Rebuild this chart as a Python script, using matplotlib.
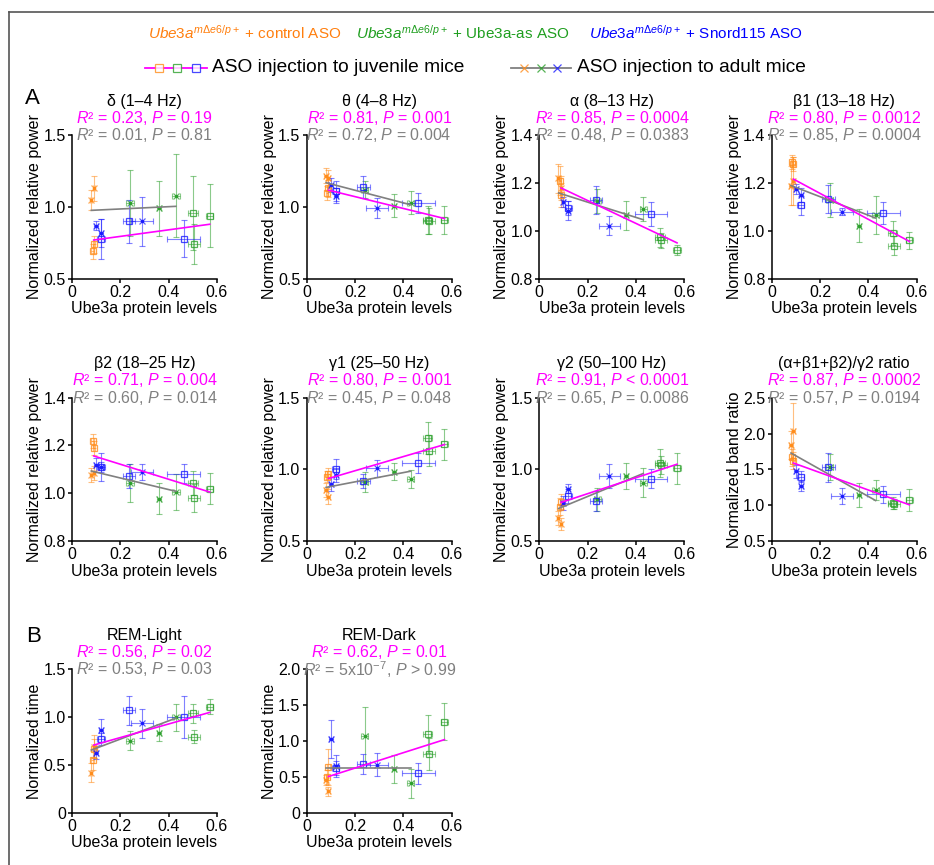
import matplotlib.pyplot as plt
from matplotlib.lines import Line2D
from matplotlib.ticker import FuncFormatter

plt.rcParams["font.family"] = ["Liberation Sans", "DejaVu Sans"]
plt.rcParams["mathtext.fontset"] = "custom"
plt.rcParams["mathtext.rm"] = "Liberation Sans"
plt.rcParams["mathtext.it"] = "Liberation Sans:italic"
plt.rcParams["mathtext.bf"] = "Liberation Sans:bold"

# ---- panel definitions -------------------------------------------------
TITLES = ["δ (1–4 Hz)", "θ (4–8 Hz)", "α (8–13 Hz)", "β1 (13–18 Hz)",
          "β2 (18–25 Hz)", "γ1 (25–50 Hz)", "γ2 (50–100 Hz)",
          "(α+β1+β2)/γ2 ratio", "REM-Light", "REM-Dark"]
YLABELS = ["Normalized relative power"] * 7 + ["Normalized band ratio",
                                               "Normalized time", "Normalized time"]
YLIMS = [(0.5, 1.5), (0.5, 1.5), (0.8, 1.4), (0.8, 1.4), (0.8, 1.4),
         (0.5, 1.5), (0.5, 1.5), (0.5, 2.5), (0, 1.5), (0, 2.0)]
YTICKS = [[0.5, 1.0, 1.5], [0.5, 1.0, 1.5], [0.8, 1.0, 1.2, 1.4],
          [0.8, 1.0, 1.2, 1.4], [0.8, 1.0, 1.2, 1.4], [0.5, 1.0, 1.5],
          [0.5, 1.0, 1.5], [0.5, 1.0, 1.5, 2.0, 2.5], [0, 0.5, 1.0, 1.5],
          [0, 0.5, 1.0, 1.5, 2.0]]

JUV_R2 = ["0.23", "0.81", "0.85", "0.80", "0.71", "0.80", "0.91", "0.87", "0.56", "0.62"]
JUV_P = ["= 0.19", "= 0.001", "= 0.0004", "= 0.0012", "= 0.004", "= 0.001",
         "< 0.0001", "= 0.0002", "= 0.02", "= 0.01"]
ADULT_R2 = ["0.01", "0.72", "0.48", "0.85", "0.60", "0.45", "0.65", "0.57", "0.53",
            "5x10$^{-7}$"]
ADULT_P = ["= 0.81", "= 0.004", "= 0.0383", "= 0.0004", "= 0.014", "= 0.048",
           "= 0.0086", "= 0.0194", "= 0.03", "> 0.99"]

# ---- Ube3a protein levels (shared by all panels) ------------------------
X_ORANGE_SQ = [0.085, 0.09]
X_ORANGE_X = [0.078, 0.09]
X_BLUE_SQ = [0.12, 0.235, 0.462]
XE_BLUE_SQ = [0.015, 0.025, 0.068]
X_BLUE_X = [0.10, 0.12, 0.29]
XE_BLUE_X = [0.008, 0.008, 0.045]
X_GREEN_SQ = [0.50, 0.505, 0.57]
XE_GREEN_SQ = [0.02, 0.025, 0.015]
X_GREEN_X = [0.24, 0.36, 0.43]
XE_GREEN_X = [0.015, 0.008, 0.015]
XE_ORANGE = [0.005, 0.005]

# ---- y values and errors, one row per panel -----------------------------
ORANGE_SQ_Y = [[0.69, 0.74], [1.10, 1.13], [1.21, 1.15], [1.29, 1.28], [1.22, 1.19],
               [0.95, 0.97], [0.74, 0.775], [1.67, 1.62], [0.55, 0.67], [0.50, 0.64]]
ORANGE_SQ_E = [[0.05, 0.06], [0.05, 0.06], [0.06, 0.05], [0.03, 0.03], [0.03, 0.03],
               [0.04, 0.04], [0.06, 0.05], [0.12, 0.12], [0.1, 0.1], [0.1, 0.25]]
ORANGE_X_Y = [[1.05, 1.13], [1.22, 1.20], [1.22, 1.18], [1.19, 1.21], [1.075, 1.085],
              [0.855, 0.81], [0.66, 0.62], [1.84, 2.04], [0.42, 0.69], [0.45, 0.30]]
ORANGE_X_E = [[0.07, 0.09], [0.05, 0.06], [0.06, 0.05], [0.08, 0.10], [0.03, 0.03],
              [0.05, 0.05], [0.05, 0.04], [0.2, 0.38], [0.1, 0.12], [0.07, 0.06]]

BLUE_SQ_Y = [[0.78, 0.90, 0.78], [1.11, 1.14, 1.03], [1.095, 1.13, 1.07],
             [1.107, 1.133, 1.075], [1.11, 1.072, 1.082], [1.0, 0.92, 1.045],
             [0.816, 0.78, 0.936], [1.40, 1.53, 1.15], [0.77, 1.07, 1.0],
             [0.62, 0.68, 0.55]]
BLUE_SQ_E = [[0.14, 0.15, 0.13], [0.07, 0.08, 0.07], [0.03, 0.06, 0.05],
             [0.04, 0.06, 0.045], [0.02, 0.05, 0.04], [0.07, 0.05, 0.07],
             [0.05, 0.07, 0.065], [0.08, 0.2, 0.12], [0.06, 0.15, 0.22],
             [0.1, 0.14, 0.15]]
BLUE_X_Y = [[0.87, 0.82, 0.90], [1.156, 1.08, 0.993], [1.12, 1.085, 1.022],
            [1.175, 1.15, 1.08], [1.117, 1.11, 1.089], [0.90, 0.96, 1.006],
            [0.767, 0.865, 0.955], [1.47, 1.27, 1.125], [0.63, 0.865, 0.935],
            [1.03, 0.65, 0.67]]
BLUE_X_E = [[0.03, 0.1, 0.17], [0.05, 0.05, 0.07], [0.02, 0.04, 0.04],
            [0.02, 0.03, 0.015], [0.03, 0.06, 0.035], [0.05, 0.05, 0.06],
            [0.05, 0.03, 0.085], [0.09, 0.07, 0.11], [0.07, 0.12, 0.15],
            [0.26, 0.15, 0.16]]

GREEN_SQ_Y = [[0.96, 0.74, 0.94], [0.91, 0.90, 0.91], [0.973, 0.96, 0.92],
              [0.993, 0.938, 0.96], [1.043, 0.98, 1.019], [1.22, 1.13, 1.175],
              [1.045, 1.03, 1.006], [1.028, 1.02, 1.074], [1.04, 0.795, 1.11],
              [1.10, 0.82, 1.27]]
GREEN_SQ_E = [[0.26, 0.14, 0.22], [0.1, 0.09, 0.1], [0.04, 0.03, 0.02],
              [0.05, 0.04, 0.035], [0.05, 0.06, 0.065], [0.11, 0.11, 0.11],
              [0.1, 0.06, 0.11], [0.08, 0.07, 0.15], [0.1, 0.07, 0.08],
              [0.27, 0.22, 0.26]]
GREEN_X_Y = [[1.03, 0.99, 1.08], [1.12, 1.01, 1.03], [1.126, 1.066, 1.09],
             [1.13, 1.022, 1.068], [1.044, 0.977, 1.005], [0.913, 0.983, 0.932],
             [0.79, 0.955, 0.906], [1.53, 1.144, 1.218], [0.754, 0.837, 0.998],
             [1.075, 0.612, 0.411]]
GREEN_X_E = [[0.23, 0.19, 0.29], [0.06, 0.08, 0.08], [0.05, 0.06, 0.05],
             [0.07, 0.07, 0.08], [0.08, 0.065, 0.075], [0.07, 0.06, 0.06],
             [0.08, 0.09, 0.1], [0.18, 0.17, 0.14], [0.1, 0.09, 0.14],
             [0.4, 0.2, 0.2]]

# regression lines: y at the start and end of each fitted x range
JUV_FIT_X = [0.09, 0.57]
ADULT_FIT_X = [0.08, 0.43]
JUV_FIT_Y = [(0.77, 0.88), (1.118, 0.92), (1.18, 0.95), (1.217, 0.956), (1.156, 1.005),
             (0.936, 1.173), (0.769, 1.036), (1.588, 1.005), (0.708, 1.05), (0.505, 1.02)]
ADULT_FIT_Y = [(0.977, 1.005), (1.17, 1.016), (1.159, 1.047), (1.19, 1.054),
               (1.093, 1.008), (0.874, 0.987), (0.727, 0.971), (1.727, 1.065),
               (0.656, 0.99), (0.63, 0.63)]

ORANGE = "#ff8c1a"
GREEN = "#2ca02c"
BLUE = "#1a1aff"
MAGENTA = "#ff00ff"
GRAY = "#808080"

W, H = 934, 865
FS = 11.5


def fx(px):
    return px / W


def fy(px):
    return 1 - px / H


def draw_group(ax, xs, xe, ys, ye, color, marker):
    ax.errorbar(xs, ys, xerr=xe, yerr=ye, fmt="none", ecolor=color,
                elinewidth=0.8, capsize=2.5, capthick=0.8, alpha=0.55, zorder=2)
    if marker == "s":
        ax.plot(xs, ys, "s", ms=5, mfc="none", mec=color, mew=0.9, alpha=0.8, zorder=3)
    else:
        ax.plot(xs, ys, "x", ms=5, mec=color, mew=0.9, alpha=0.7, zorder=3)
        ax.plot(xs, ys, ".", ms=3, color=color, zorder=3)


def tick_fmt(v, pos):
    return "0" if abs(v) < 1e-9 else f"{v:.1f}"


fig = plt.figure(figsize=(W / 100, H / 100), dpi=100)

# frame
fig.add_artist(Line2D([fx(9), 1], [fy(12), fy(12)], color="#555555", lw=1.2))
fig.add_artist(Line2D([fx(9), fx(9)], [fy(12), 0], color="#555555", lw=1.2))

# header legend
HDR = 11
fig.text(fx(148), fy(33), r"$\mathit{Ube3a}^{\mathit{m\Delta e6/p+}}$ + control ASO",
         color="#ff7f0e", fontsize=HDR, va="center", ha="left")
fig.text(fx(356), fy(33), r"$\mathit{Ube3a}^{\mathit{m\Delta e6/p+}}$ + Ube3a-as ASO",
         color="#1f9e1f", fontsize=HDR, va="center", ha="left")
fig.text(fx(589), fy(33), r"$\mathit{Ube3a}^{\mathit{m\Delta e6/p+}}$ + Snord115 ASO",
         color="#0000ff", fontsize=HDR, va="center", ha="left")

fig.add_artist(Line2D([fx(145), fx(207)], [fy(68)] * 2, color=MAGENTA, lw=1.3))
for px, c in zip([159, 177, 196], [ORANGE, GREEN, BLUE]):
    fig.add_artist(Line2D([fx(px)], [fy(68)], marker="s", ms=6, mfc="white",
                          mec=c, mew=0.9, alpha=0.8))
fig.text(fx(212), fy(68), "ASO injection to juvenile mice", fontsize=13.8,
         va="center", ha="left")
fig.add_artist(Line2D([fx(511), fx(571)], [fy(68)] * 2, color=GRAY, lw=1.3))
for px, c in zip([524, 541, 557], [ORANGE, GREEN, BLUE]):
    fig.add_artist(Line2D([fx(px)], [fy(68)], marker="x", ms=6, mec=c, mew=0.9,
                          alpha=0.8))
fig.text(fx(577), fy(68), "ASO injection to adult mice", fontsize=13.8,
         va="center", ha="left")

fig.text(fx(32), fy(99), "A", fontsize=16, ha="center", va="center")
fig.text(fx(34), fy(636), "B", fontsize=16, ha="center", va="center")

lefts = [72, 306.7, 539.3, 771.7]
bottoms = [278.7, 541, 812.7]
aw, ah = 145, 143.3

for i in range(10):
    row, col = (i // 4, i % 4) if i < 8 else (2, i - 8)
    ax = fig.add_axes([fx(lefts[col]), fy(bottoms[row]), aw / W, ah / H])

    draw_group(ax, X_ORANGE_SQ, XE_ORANGE, ORANGE_SQ_Y[i], ORANGE_SQ_E[i], ORANGE, "s")
    draw_group(ax, X_ORANGE_X, XE_ORANGE, ORANGE_X_Y[i], ORANGE_X_E[i], ORANGE, "x")
    draw_group(ax, X_GREEN_SQ, XE_GREEN_SQ, GREEN_SQ_Y[i], GREEN_SQ_E[i], GREEN, "s")
    draw_group(ax, X_GREEN_X, XE_GREEN_X, GREEN_X_Y[i], GREEN_X_E[i], GREEN, "x")
    draw_group(ax, X_BLUE_SQ, XE_BLUE_SQ, BLUE_SQ_Y[i], BLUE_SQ_E[i], BLUE, "s")
    draw_group(ax, X_BLUE_X, XE_BLUE_X, BLUE_X_Y[i], BLUE_X_E[i], BLUE, "x")

    ax.plot(ADULT_FIT_X, ADULT_FIT_Y[i], color=GRAY, lw=1.2, zorder=4)
    ax.plot(JUV_FIT_X, JUV_FIT_Y[i], color=MAGENTA, lw=1.2, zorder=5)

    ax.set_xlim(0, 0.6)
    ax.set_ylim(*YLIMS[i])
    ax.set_xticks([0, 0.2, 0.4, 0.6])
    ax.set_yticks(YTICKS[i])
    ax.xaxis.set_major_formatter(FuncFormatter(tick_fmt))
    ax.yaxis.set_major_formatter(FuncFormatter(tick_fmt))
    for s in ["top", "right"]:
        ax.spines[s].set_visible(False)
    for s in ["left", "bottom"]:
        ax.spines[s].set_linewidth(1.1)
    ax.tick_params(direction="out", length=3, width=1.1, labelsize=FS, pad=1.5)
    ax.set_xlabel("Ube3a protein levels", fontsize=FS, labelpad=1)
    ax.set_ylabel(YLABELS[i], fontsize=FS, labelpad=1)

    ax.annotate(f"$\\mathit{{R}}$² = {ADULT_R2[i]}, $\\mathit{{P}}$ {ADULT_P[i]}",
                xy=(0.5, 1), xycoords="axes fraction", xytext=(0, 0),
                textcoords="offset points", ha="center", va="center",
                color=GRAY, fontsize=FS)
    ax.annotate(f"$\\mathit{{R}}$² = {JUV_R2[i]}, $\\mathit{{P}}$ {JUV_P[i]}",
                xy=(0.5, 1), xycoords="axes fraction", xytext=(0, 12.4),
                textcoords="offset points", ha="center", va="center",
                color=MAGENTA, fontsize=FS)
    ax.annotate(TITLES[i], xy=(0.5, 1), xycoords="axes fraction", xytext=(0, 24.6),
                textcoords="offset points", ha="center", va="center",
                color="black", fontsize=FS)

fig.savefig("out.png", dpi=100)
